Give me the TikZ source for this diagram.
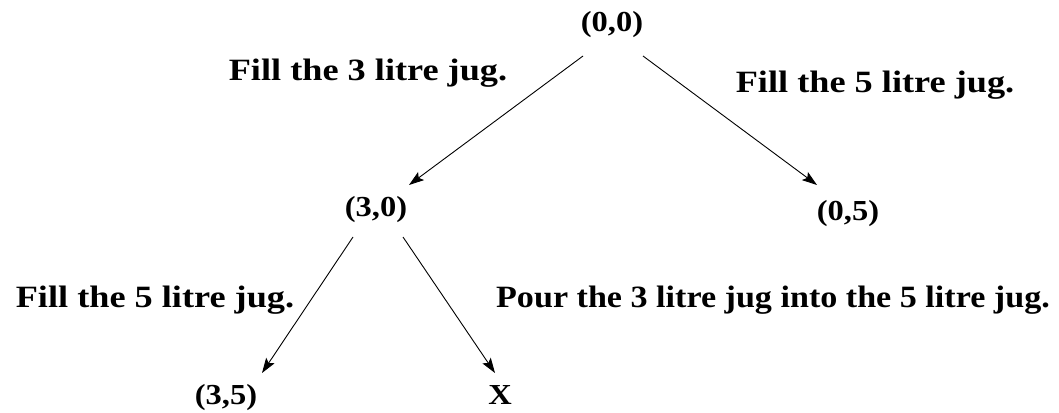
\documentclass[tikz,border=0pt]{standalone}
\usepackage{fontspec}
\setmainfont{Liberation Serif}
\usetikzlibrary{arrows.meta,calc}
\begin{document}
\begin{tikzpicture}[x=1pt,y=-1pt,
  st/.style={font=\fontsize{29}{32}\selectfont\bfseries, inner sep=0pt, xscale=1.12},
  lbl/.style={font=\fontsize{31}{34}\selectfont\bfseries, inner sep=0pt, xscale=1.17},
  arr/.style={line width=0.9pt, -{Stealth[length=15pt,width=10pt,inset=3pt]}}]
\useasboundingbox (0,0) rectangle (1059,412);
\node[st] (n00) at (612,25) {(0,0)};
\node[st] (n30) at (376,210) {(3,0)};
\node[st] (n05) at (848,214) {(0,5)};
\node[st] (n35) at (226,398) {(3,5)};
\node[st] (nX) at (500,395) {X};
\node[lbl] (l1) at (368,73) {Fill the 3 litre jug.};
\node[lbl] (l2) at (875,85) {Fill the 5 litre jug.};
\node[lbl] (l3) at (155,300) {Fill the 5 litre jug.};
\node[lbl, xscale=1.10/1.17] (l4) at (773,300) {Pour the 3 litre jug into the 5 litre jug.};
\draw[arr] ($(n00.center)+(-29,31)$) -- ($(n30.center)+(33,-25)$);
\draw[arr] ($(n00.center)+(31,31)$) -- ($(n05.center)+(-31,-29)$);
\draw[arr] ($(n30.center)+(-23,27)$) -- ($(n35.center)+(36,-25)$);
\draw[arr] ($(n30.center)+(27,27)$) -- ($(nX.center)+(-5,-22)$);
\end{tikzpicture}
\end{document}
